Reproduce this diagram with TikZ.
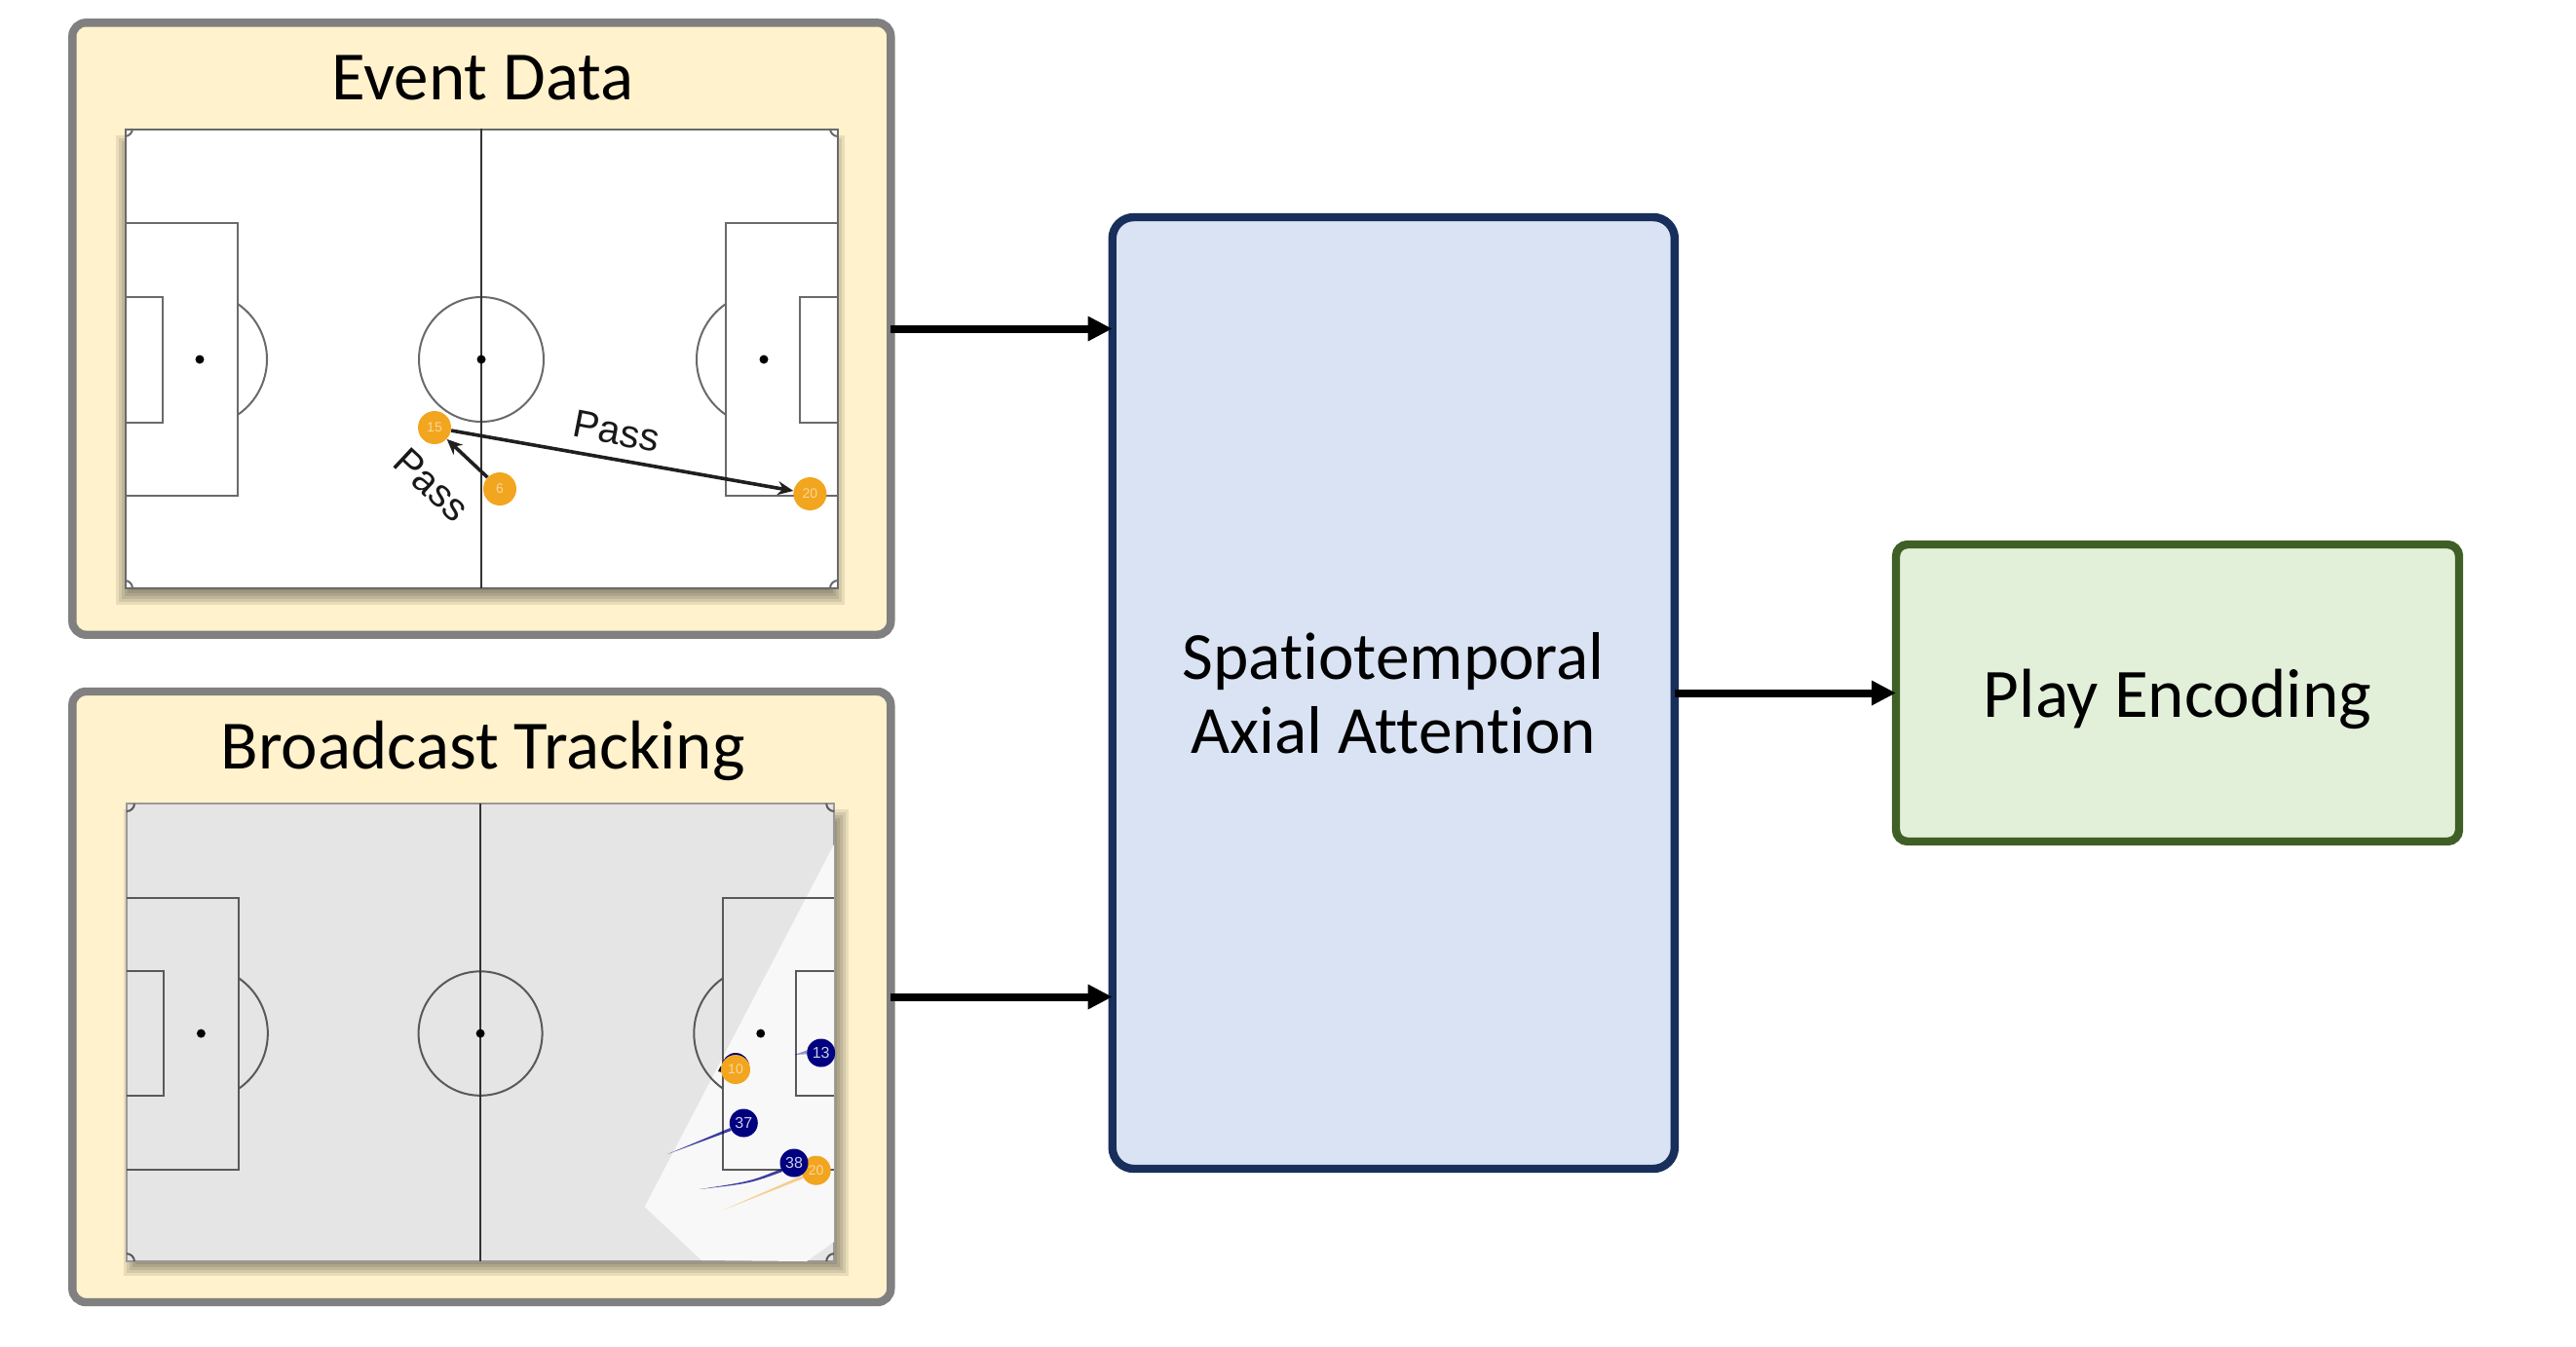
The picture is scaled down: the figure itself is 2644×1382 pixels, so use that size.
\documentclass[tikz,border=0pt]{standalone}
\usepackage{fontspec}
\setmainfont{Carlito}[Ligatures=NoCommon]
\newfontfamily\passfont{Liberation Sans}
\usetikzlibrary{arrows.meta}
\definecolor{panelfill}{HTML}{FFF2CC}
\definecolor{panelline}{HTML}{808080}
\definecolor{bluefill}{HTML}{DAE3F3}
\definecolor{blueline}{HTML}{172F5A}
\definecolor{greenfill}{HTML}{E2EFD9}
\definecolor{greenline}{HTML}{3F5F26}
\definecolor{homecol}{HTML}{F2A51E}
\definecolor{awaycol}{HTML}{000080}
\definecolor{markline}{HTML}{6A6A6A}
\definecolor{seenfill}{HTML}{F8F8F9}
\tikzset{
  box/.style={draw, rounded corners=#1, line width=4.2pt, inner sep=0pt, outer sep=0pt},
  panel/.style={box=7pt, draw=panelline, fill=panelfill, minimum width=420pt},
  title/.style={anchor=base, font=\fontsize{35.5}{38}\selectfont},
  flow/.style={line width=4pt, -{Triangle[length=12.5pt, width=12pt]}},
  pitch/.style={draw=#1, line width=1pt, inner sep=0pt, outer sep=0pt},
  player/.style={circle, inner sep=0pt, minimum size=#1, text=white,
    font=\passfont\fontsize{7}{7}\selectfont},
  home/.style={player=17pt, fill=homecol, text=white!55!homecol},
  away/.style={player=14.5pt, fill=awaycol, text=white!80!awaycol,
    font=\passfont\fontsize{8}{8}\selectfont},
  passarrow/.style={line width=1.8pt, draw=black!88, -{Stealth[length=8pt, width=7pt]}},
  passlabel/.style={text=black!90, font=\passfont\fontsize{20}{20}\selectfont}
}
% lines of a pitch, in its own 732 by 472 frame
\newcommand{\pitchlines}{
  \draw (0,97) -- (116,97) -- (116,377) -- (0,377);
  \draw (0,173) -- (38.6,173) -- (38.6,301.5) -- (0,301.5);
  \draw (116,180) arc[start angle=-55.6, end angle=55.6, radius=69];
  \draw (732,97) -- (617,97) -- (617,377) -- (732,377);
  \draw (732,173) -- (693,173) -- (693,301.5) -- (732,301.5);
  \draw (617,180) arc[start angle=235.6, end angle=124.4, radius=69];
  \draw (366,237) circle (64);
  \draw[draw=black!80] (366,0) -- (366,472);
  \fill[black] (77,237) circle (4.5) (656,237) circle (4.5) (366,237) circle (4.5);
  \draw (8,0) arc[start angle=0, end angle=90, radius=8];
  \draw (724,0) arc[start angle=180, end angle=90, radius=8];
  \draw (0,464) arc[start angle=-90, end angle=0, radius=8];
  \draw (732,464) arc[start angle=-90, end angle=-180, radius=8];
}

\begin{document}
\begin{tikzpicture}[x=0.5pt, y=-0.5pt]
\useasboundingbox (0,0) rectangle (2644,1382);
%
\node[panel, minimum height=314.2pt](event) at (494.3,337.5){};
\node[title](eventtitle) at (495.6,102){Event Data};
\foreach \k in {-6,-3,0,3,6,9}
  \fill[black, opacity=.09] (128-\k,148-\k) rectangle (858+\k,612+\k);
\node[pitch=markline, fill=white, minimum width=365.5pt, minimum height=235.5pt]
  (eventpitch) at (494.5,368.5){};
\begin{scope}[shift={(128,132)}, draw=markline, line width=1pt]
\pitchlines
\end{scope}
%
\node[home](p15) at (446,439){15};
\node[home](p6) at (513,502){6};
\node[home](p20) at (831.4,507){20};
\draw[passarrow] (p15) -- (p20);
\draw[passarrow] (p6) -- (p15);
\node[passlabel, rotate=-11](passb) at (633,443){Pass};
\node[passlabel, rotate=-43](passa) at (443,498){Pass};
%
\node[panel, minimum height=313.5pt](broadcast) at (494.3,1023.5){};
\node[title](broadcasttitle) at (495.6,789){Broadcast Tracking};
\foreach \k in {-6,-3,0,3,6,9}
  \fill[black, opacity=.09] (136-\k,840-\k) rectangle (862+\k,1301+\k);
\node[pitch=black!40, fill=black!10, minimum width=363pt, minimum height=235pt]
  (broadcastpitch) at (493.2,1060){};
\fill[seenfill] (856,867) -- (661.7,1239) -- (720,1294) -- (828,1295)
  -- (856,1275) -- cycle;
\begin{scope}[shift={(130,825)}, xscale=.992, yscale=.996, draw=black!65, line width=1pt]
\pitchlines
\end{scope}
%
\coordinate (t13) at (815,1083);
\coordinate (t37) at (685,1185);
\coordinate (t38) at (718,1221);
\coordinate (t20) at (743,1242);
\coordinate (t10) at (737,1100);
\node[away, minimum size=14pt](p10b) at (755,1095){};
\node[home, minimum size=15pt](p10) at (755,1098){10};
\node[away](p13) at (842.7,1081){13};
\node[away](p37) at (763.3,1153){37};
\node[home, minimum size=15pt](p20b) at (837.7,1201.7){20};
\node[away](p38) at (815,1194){38};
\fill[awaycol, opacity=.4] (p13.170) -- (t13) -- (p13.185) -- cycle;
\fill[awaycol, opacity=.75] (p37.200) -- (t37) -- (p37.212) -- cycle;
\fill[awaycol, opacity=.75] (p38.205) .. controls (770,1213) .. (t38)
  .. controls (770,1215) .. (p38.217) -- cycle;
\fill[homecol, opacity=.5] (p20b.200) -- (t20) -- (p20b.212) -- cycle;
\fill[black] (p10.165) -- (t10) -- (p10.190) -- cycle;
%
\node[box=11pt, draw=blueline, fill=bluefill, minimum width=288.6pt, minimum height=488.5pt,
  align=center, font=\fontsize{34.6}{38}\selectfont](attention) at (1430.3,711.5)
  {Spatiotemporal\\Axial Attention};
\node[box=6pt, draw=greenline, fill=greenfill, minimum width=289pt, minimum height=152.5pt,
  text depth=0pt, font=\fontsize{35.6}{38}\selectfont](play) at (2235,711.5){Play Encoding};
%
\draw[flow] (event.east) -- (event.east -| attention.west);
\draw[flow] (broadcast.east) -- (broadcast.east -| attention.west);
\draw[flow] (attention) -- (play);
\end{tikzpicture}
\end{document}
